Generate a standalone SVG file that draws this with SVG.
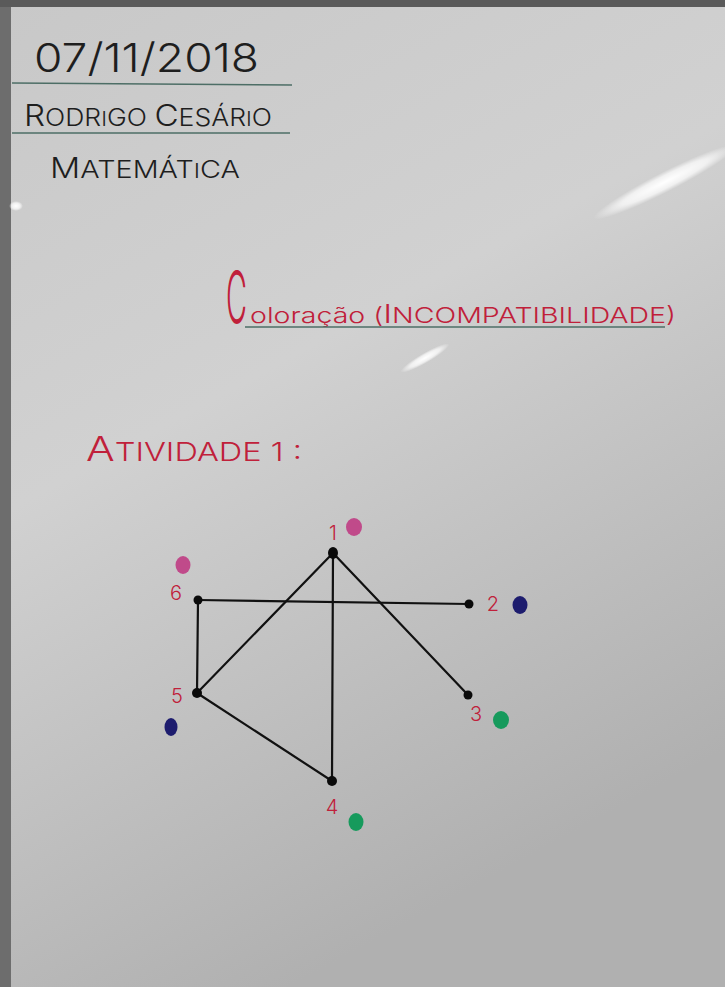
<svg xmlns="http://www.w3.org/2000/svg" width="725" height="987" viewBox="0 0 725 987">
<defs>
<linearGradient id="board" x1="0" y1="0" x2="0.4" y2="1">
<stop offset="0" stop-color="#c8c8c8"/>
<stop offset="0.45" stop-color="#d1d1d1"/>
<stop offset="1" stop-color="#b0b0b0"/>
</linearGradient>
<radialGradient id="glow" cx="0.5" cy="0.5" r="0.5">
<stop offset="0" stop-color="#ffffff" stop-opacity="1"/>
<stop offset="0.6" stop-color="#ffffff" stop-opacity="0.7"/>
<stop offset="1" stop-color="#ffffff" stop-opacity="0"/>
</radialGradient>
<style>
.blk{font-family:Inter,"Liberation Sans","DejaVu Sans",sans-serif;font-weight:300;fill:#1e1e1e;}
.red{font-family:Inter,"Liberation Sans","DejaVu Sans",sans-serif;font-weight:300;fill:#c0203a;}
.rule{stroke:#4d6e66;stroke-width:1.5;}
.edge{stroke:#111;stroke-width:2.2;fill:none;stroke-linecap:round;}
.vtx{fill:#0a0a0a;}
.lbl{font-family:Inter,"Liberation Sans","DejaVu Sans",sans-serif;font-weight:300;fill:#c0203a;font-size:20px;text-anchor:middle;}
.pink{fill:#c04a8a;}
.blue{fill:#1d1c6e;}
.green{fill:#169a5c;}
</style>
</defs>
<rect x="0" y="0" width="725" height="987" fill="url(#board)"/>
<rect x="0" y="0" width="11" height="987" fill="#6d6d6d"/>
<rect x="0" y="0" width="725" height="7" fill="#5a5a5a"/>
<ellipse cx="665" cy="182" rx="80" ry="10" fill="url(#glow)" transform="rotate(-27 665 182)"/>
<ellipse cx="425" cy="358" rx="28" ry="5" fill="url(#glow)" transform="rotate(-30 425 358)"/>
<ellipse cx="16" cy="206" rx="7" ry="5" fill="url(#glow)"/>

<g id="header">
<text class="blk" x="34" y="72" font-size="40" textLength="225" lengthAdjust="spacingAndGlyphs">07/11/2018</text>
<line class="rule" x1="12" y1="83" x2="292" y2="85"/>
<text class="blk" x="24" y="126" font-size="24" textLength="248" lengthAdjust="spacingAndGlyphs"><tspan font-size="30">R</tspan>ODR<tspan font-size="20">I</tspan>GO <tspan font-size="30">C</tspan>ESÁR<tspan font-size="20">I</tspan>O</text>
<line class="rule" x1="12" y1="133" x2="290" y2="133"/>
<text class="blk" x="50" y="178" font-size="24" textLength="190" lengthAdjust="spacingAndGlyphs"><tspan font-size="28">M</tspan>ATEMÁT<tspan font-size="20">I</tspan>CA</text>
</g>

<g id="title">
<text class="red" font-size="72" transform="translate(226 323) scale(0.4 1)">C</text>
<text class="red" x="250" y="323" font-size="22" textLength="426" lengthAdjust="spacingAndGlyphs">oloração (<tspan font-size="26">I</tspan>NCOMPATIBILIDADE)</text>
<line class="rule" x1="245" y1="327" x2="665" y2="327"/>
</g>

<g id="activity">
<text class="red" x="86" y="461" font-size="26" textLength="216" lengthAdjust="spacingAndGlyphs"><tspan font-size="34">A</tspan>TIVIDADE 1 :</text>
</g>

<g id="connectors">
<line class="edge" x1="333" y1="553" x2="197" y2="693"/>
<line class="edge" x1="333" y1="553" x2="332" y2="781"/>
<line class="edge" x1="333" y1="553" x2="468" y2="695"/>
<line class="edge" x1="198" y1="600" x2="469" y2="604"/>
<line class="edge" x1="198" y1="600" x2="197" y2="693"/>
<line class="edge" x1="197" y1="693" x2="332" y2="781"/>
</g>

<g id="node1">
<ellipse class="vtx" cx="333" cy="553" rx="5" ry="6"/>
<text class="lbl" x="333" y="540">1</text>
<ellipse class="pink" cx="354" cy="527" rx="8" ry="9"/>
</g>
<g id="node2">
<circle class="vtx" cx="469" cy="604" r="4.5"/>
<text class="lbl" x="493" y="611">2</text>
<ellipse class="blue" cx="520" cy="605" rx="7.5" ry="9"/>
</g>
<g id="node3">
<circle class="vtx" cx="468" cy="695" r="4.5"/>
<text class="lbl" x="476" y="721">3</text>
<ellipse class="green" cx="501" cy="720" rx="8" ry="9"/>
</g>
<g id="node4">
<circle class="vtx" cx="332" cy="781" r="5"/>
<text class="lbl" x="332" y="814" font-size="24">4</text>
<ellipse class="green" cx="356" cy="822" rx="7.5" ry="9"/>
</g>
<g id="node5">
<circle class="vtx" cx="197" cy="693" r="5"/>
<text class="lbl" x="177" y="703">5</text>
<ellipse class="blue" cx="171" cy="727" rx="6.5" ry="9"/>
</g>
<g id="node6">
<circle class="vtx" cx="198" cy="600" r="4.5"/>
<text class="lbl" x="176" y="600" font-size="16">6</text>
<ellipse class="pink" cx="183" cy="565" rx="7.5" ry="9"/>
</g>
</svg>
